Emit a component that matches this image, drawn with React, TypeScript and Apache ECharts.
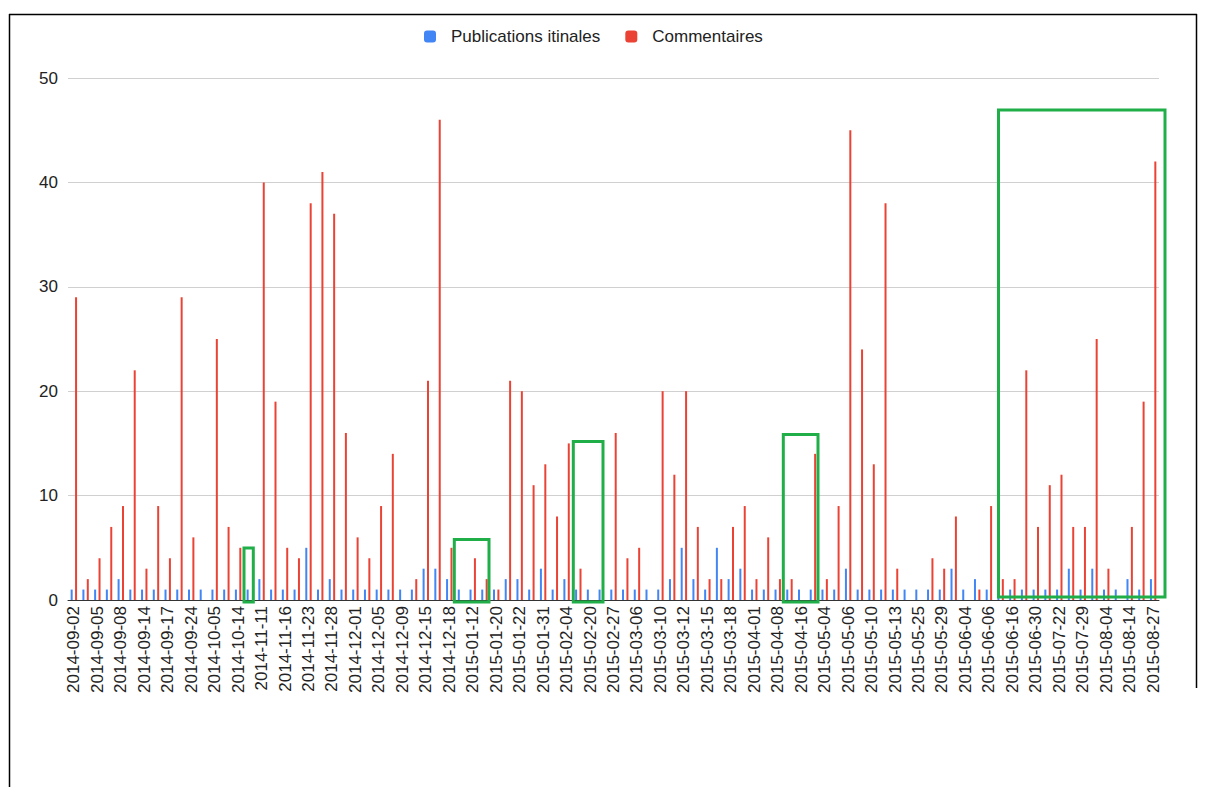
import React, { useEffect, useRef } from "react";
import * as echarts from "echarts";

const dates: string[] = [
  "2014-09-02", "2014-09-03", "2014-09-05", "2014-09-07", "2014-09-08", "2014-09-10",
  "2014-09-14", "2014-09-16", "2014-09-17", "2014-09-21", "2014-09-24", "2014-09-30",
  "2014-10-05", "2014-10-09", "2014-10-14", "2014-10-28", "2014-11-11", "2014-11-13",
  "2014-11-16", "2014-11-19", "2014-11-23", "2014-11-25", "2014-11-28", "2014-11-30",
  "2014-12-01", "2014-12-03", "2014-12-05", "2014-12-07", "2014-12-09", "2014-12-12",
  "2014-12-15", "2014-12-16", "2014-12-18", "2015-01-05", "2015-01-12", "2015-01-15",
  "2015-01-20", "2015-01-21", "2015-01-22", "2015-01-27", "2015-01-31", "2015-02-02",
  "2015-02-04", "2015-02-11", "2015-02-20", "2015-02-24", "2015-02-27", "2015-03-03",
  "2015-03-06", "2015-03-08", "2015-03-10", "2015-03-11", "2015-03-12", "2015-03-13",
  "2015-03-15", "2015-03-16", "2015-03-18", "2015-03-25", "2015-04-01", "2015-04-05",
  "2015-04-08", "2015-04-12", "2015-04-16", "2015-04-26", "2015-05-04", "2015-05-05",
  "2015-05-06", "2015-05-08", "2015-05-10", "2015-05-12", "2015-05-13", "2015-05-20",
  "2015-05-25", "2015-05-27", "2015-05-29", "2015-06-01", "2015-06-04", "2015-06-05",
  "2015-06-06", "2015-06-10", "2015-06-16", "2015-06-23", "2015-06-30", "2015-07-10",
  "2015-07-22", "2015-07-25", "2015-07-29", "2015-08-01", "2015-08-04", "2015-08-09",
  "2015-08-14", "2015-08-20", "2015-08-27",
];

const publications: number[] = [
  1, 1, 1, 1, 2, 1, 1, 1, 1, 1, 1, 1, 1, 1, 1, 1, 2, 1, 1, 1,
  5, 1, 2, 1, 1, 1, 1, 1, 1, 1, 3, 3, 2, 1, 1, 1, 1, 2, 2, 1,
  3, 1, 2, 1, 1, 1, 1, 1, 1, 1, 1, 2, 5, 2, 1, 5, 2, 3, 1, 1,
  1, 1, 1, 1, 1, 1, 3, 1, 1, 1, 1, 1, 1, 1, 1, 3, 1, 2, 1, 1,
  1, 1, 1, 1, 1, 3, 1, 3, 1, 1, 2, 1, 2,
];

const commentaires: number[] = [
  29, 2, 4, 7, 9, 22, 3, 9, 4, 29, 6, 0, 25, 7, 5, 0, 40, 19, 5, 4,
  38, 41, 37, 16, 6, 4, 9, 14, 0, 2, 21, 46, 5, 0, 4, 2, 1, 21, 20, 11,
  13, 8, 15, 3, 0, 0, 16, 4, 5, 0, 20, 12, 20, 7, 2, 2, 7, 9, 2, 6,
  2, 2, 0, 14, 2, 9, 45, 24, 13, 38, 3, 0, 0, 4, 3, 8, 0, 1, 9, 2,
  2, 22, 7, 11, 12, 7, 7, 25, 3, 0, 7, 19, 42,
];

const seriesNames: string[] = ["Publications itinales", "Commentaires"];
const yTicks = { min: 0, max: 50, interval: 10 };

const FONT = "'Liberation Sans', Arial, Helvetica, sans-serif";
const GREEN = "#1fae48";

export default function App() {
  const ref = useRef<HTMLDivElement>(null);

  useEffect(() => {
    if (!ref.current) return;
    const chart = echarts.init(ref.current, null, { renderer: "svg" });
    const box = (x: number, y: number, w: number, h: number) => ({
      type: "rect",
      shape: { x, y, width: w, height: h },
      style: { fill: "none", stroke: GREEN, lineWidth: 3 },
      z: 100,
    });
    chart.setOption({
      animation: false,
      backgroundColor: "#ffffff",
      textStyle: { fontFamily: FONT },
      legend: {
        top: 23,
        left: 419,
        padding: 5,
        itemWidth: 12,
        itemHeight: 12,
        itemGap: 25,
        icon: "roundRect",
        textStyle: { fontSize: 17, color: "#222222", fontFamily: FONT, padding: [0, 0, 0, 10] },
        data: seriesNames,
      },
      grid: { left: 68, right: 47, top: 78, bottom: 187, containLabel: false },
      xAxis: {
        type: "category",
        data: dates,
        boundaryGap: true,
        axisTick: { show: false },
        axisLine: { lineStyle: { color: "#333333", width: 1 } },
        axisLabel: {
          interval: 1,
          rotate: 90,
          fontSize: 17,
          color: "#222222",
          fontFamily: FONT,
          margin: 6,
        },
      },
      yAxis: {
        type: "value",
        min: yTicks.min,
        max: yTicks.max,
        interval: yTicks.interval,
        axisLine: { show: false },
        axisTick: { show: false },
        splitLine: { lineStyle: { color: "#d0d0d0", width: 1 } },
        axisLabel: { fontSize: 17, color: "#222222", fontFamily: FONT, margin: 10 },
      },
      series: [
        {
          name: seriesNames[0],
          type: "bar",
          data: publications,
          barWidth: 2,
          barGap: "120%",
          itemStyle: { color: "#4285f4" },
        },
        {
          name: seriesNames[1],
          type: "bar",
          data: commentaires,
          barWidth: 2,
          barGap: "120%",
          itemStyle: { color: "#ea4335" },
        },
      ],
      graphic: [
        { type: "line", shape: { x1: 9, y1: 14.5, x2: 1197, y2: 14.5 }, style: { stroke: "#000", lineWidth: 1.5 } },
        { type: "line", shape: { x1: 9.5, y1: 14, x2: 9.5, y2: 787 }, style: { stroke: "#000", lineWidth: 1.5 } },
        { type: "line", shape: { x1: 1196.5, y1: 14, x2: 1196.5, y2: 688 }, style: { stroke: "#000", lineWidth: 1.5 } },
        box(244, 548, 9.3, 54),
        box(454.3, 539.5, 34.7, 62.5),
        box(573.3, 441.5, 29.7, 160.5),
        box(783.3, 434.5, 34.7, 167.5),
        box(998.5, 110, 166.5, 487),
      ],
    });
    return () => chart.dispose();
  }, []);

  return (
    <div
      ref={ref}
      style={{ position: "fixed", left: 0, top: 0, width: 1206, height: 787, background: "#fff" }}
    />
  );
}
